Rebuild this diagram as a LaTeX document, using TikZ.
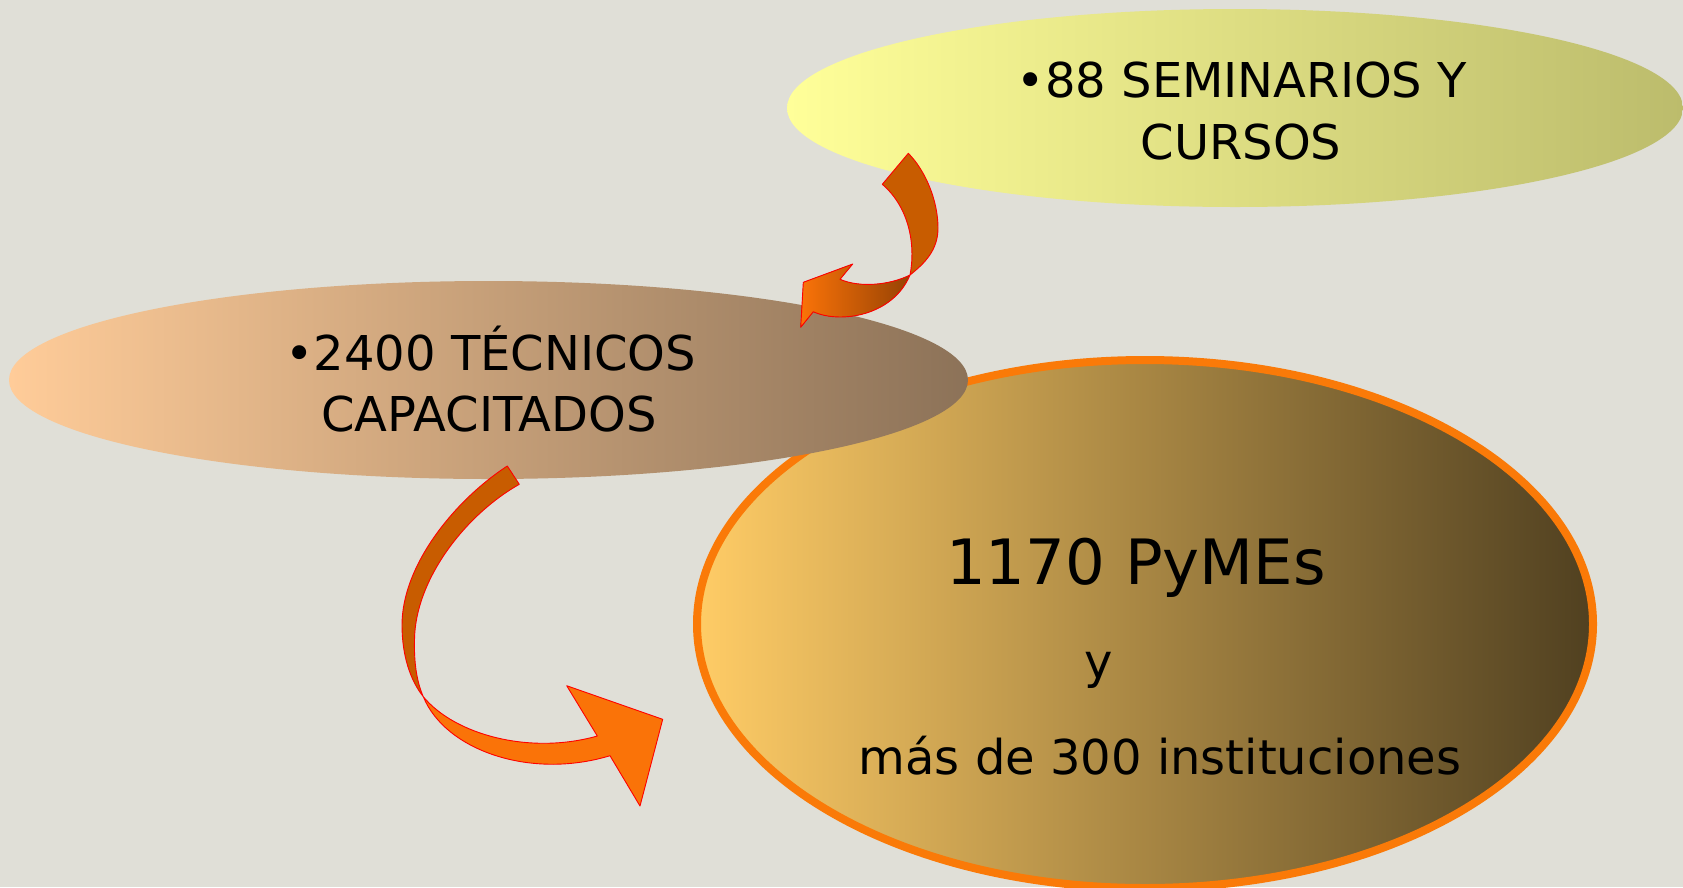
\documentclass[tikz,border=0pt]{standalone}
\usepackage{fontspec}
\setmainfont{DejaVu Sans}
\usetikzlibrary{shapes.geometric}
\definecolor{bg}{RGB}{224,223,215}
\definecolor{ylL}{RGB}{255,255,153}
\definecolor{ylR}{RGB}{188,188,108}
\definecolor{brL}{RGB}{255,204,153}
\definecolor{brR}{RGB}{140,114,88}
\definecolor{ciL}{RGB}{255,204,102}
\definecolor{ciR}{RGB}{80,64,32}
\definecolor{ciS}{RGB}{250,122,8}
\definecolor{adark}{RGB}{200,92,0}
\definecolor{abright}{RGB}{250,115,8}
\definecolor{abrown}{RGB}{150,66,4}
\definecolor{aline}{RGB}{255,0,0}
\tikzset{
  blob/.style={ellipse, inner sep=0pt, outer sep=0pt},
  lbl/.style={font=\fontsize{48}{58}\selectfont, anchor=base, inner sep=0pt, text=black},
  biglbl/.style={font=\fontsize{62.5}{72}\selectfont, anchor=base, inner sep=0pt, text=black},
  arrowline/.style={draw=aline, line width=0.9pt, line join=round},
}
\begin{document}
\begin{tikzpicture}[x=1pt,y=-1pt]
\useasboundingbox (0,0) rectangle (1683,887);
\clip (0,0) rectangle (1683,887);
\fill[bg] (0,0) rectangle (1683,887);

% big circle
\node[blob, minimum width=896pt, minimum height=528pt, draw=ciS, line width=8pt,
      left color=ciL, right color=ciR] (pymes) at (1145,624) {};
% middle ellipse
\node[blob, minimum width=959pt, minimum height=198pt,
      left color=brL, right color=brR] (tec) at (488.5,380) {};
% top ellipse
\node[blob, minimum width=896pt, minimum height=198pt,
      left color=ylL, middle color=ylL!70!ylR, right color=ylR] (sem) at (1235,108) {};

% arrow 1 (small): bright part
\filldraw[arrowline, left color=abright, middle color=abright, right color=abrown]
  (910,275) .. controls (890,285) and (860,288) .. (840,279.3)
  -- (852.7,264) -- (803.3,282.3) -- (800.7,327.3) -- (813.3,311.7)
  .. controls (840,324) and (893,316) .. (910,275)
  -- cycle;
% arrow 1 dark part
\filldraw[arrowline, fill=adark]
  (908.3,153.3) .. controls (925,170) and (938,200) .. (938,228)
  .. controls (938,250) and (925,263) .. (910,275)
  .. controls (915,250) and (912,210) .. (882.3,184.3)
  -- cycle;

% arrow 2 (large): bright part
\filldraw[arrowline, fill=abright]
  (423.3,696.7) .. controls (455,735) and (530,755) .. (597.3,736)
  -- (566.7,685.7) -- (662.7,719.3) -- (640,806) -- (610,755.7)
  .. controls (530,780) and (445,750) .. (423.3,696.7)
  -- cycle;
% arrow 2 dark part
\filldraw[arrowline, fill=adark]
  (507.3,466) .. controls (455,500) and (402,565) .. (402,625)
  .. controls (402,655) and (410,680) .. (423.3,696.7)
  .. controls (416,680) and (414,660) .. (414.5,640)
  .. controls (415,580) and (465,515) .. (519.3,484.3)
  -- cycle;

% texts
\node[lbl] (sem1) at (1242,97) {•88 SEMINARIOS Y};
\node[lbl] (sem2) at (1241,159.3) {CURSOS};
\node[lbl] (tec1) at (490.8,370) {•2400 TÉCNICOS};
\node[lbl] (tec2) at (489.2,431.7) {CAPACITADOS};
\node[biglbl] (py1) at (1136,584.2) {1170 PyMEs};
\node[lbl] (py2) at (1098.7,678.5) {y};
\node[lbl] (py3) at (1160,774.4) {más de 300 instituciones};
\end{tikzpicture}
\end{document}
